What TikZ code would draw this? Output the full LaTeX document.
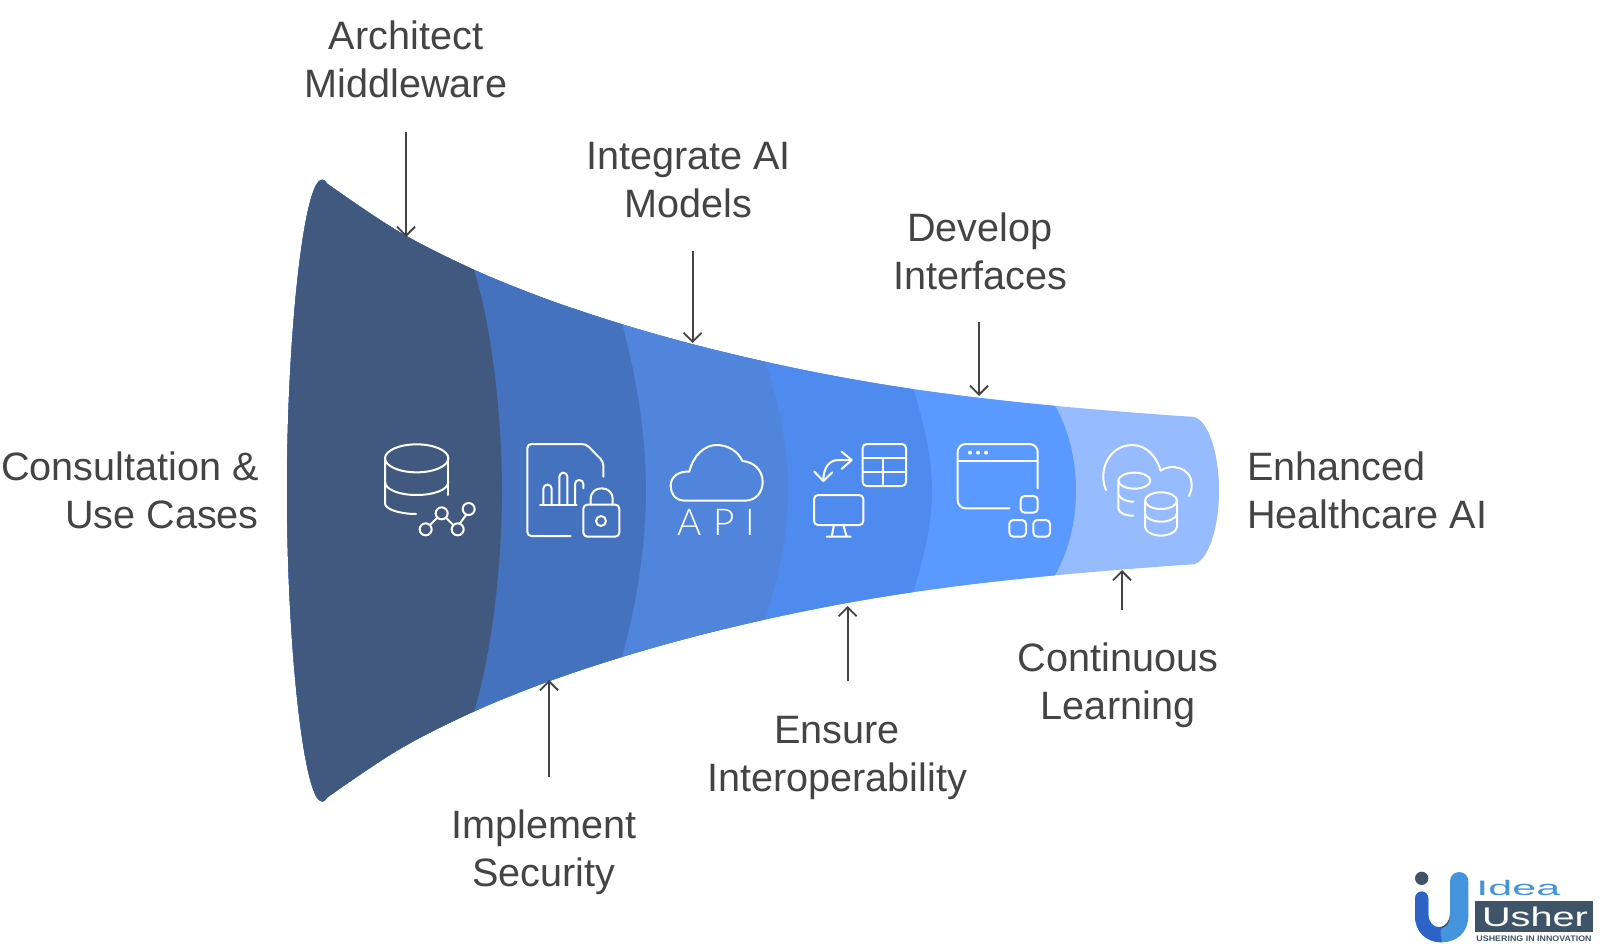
\documentclass[tikz,border=0pt]{standalone}
\usepackage{fontspec}
\setmainfont{Liberation Sans}
\newfontfamily\apifont[UprightFont=* Light,LetterSpace=30]{Lato}
\usetikzlibrary{arrows.meta}
\definecolor{cA}{HTML}{41597F}
\definecolor{cB}{HTML}{4472BE}
\definecolor{cC}{HTML}{5085DB}
\definecolor{cD}{HTML}{4F8BEE}
\definecolor{cE}{HTML}{5A99FF}
\definecolor{cF}{HTML}{97BBFF}
\definecolor{txt}{HTML}{444444}
\definecolor{logoDark}{HTML}{3F5468}
\definecolor{logoBlue}{HTML}{2D62C6}
\definecolor{logoSky}{HTML}{4594DE}
\tikzset{
  lab/.style={font=\fontsize{39.6}{47.8}\selectfont,text=txt,align=center,inner sep=0pt},
  arr/.style={draw=txt,line width=1.8pt,-{Straight Barb[length=9pt,width=18pt,line width=1.8pt]}},
  ico/.style={draw=white,line width=2pt,line cap=round,line join=round},
  rr/.style={rounded corners=4pt}
}
\begin{document}
\begin{tikzpicture}[x=1pt,y=-1pt]
\useasboundingbox (0,0) rectangle (1600,944);
\fill[white] (0,0) rectangle (1600,944);
% funnel
\begin{scope}
\clip (287,490.6) .. controls (287,340) and (303,190) .. (320,180.5)
  .. controls (323,178.5) and (325,180.5) .. (327,183.6)
  -- plot[smooth,tension=.6] coordinates {(327,183.6) (397,230.6) (467,266.6) (537,295.6) (607,319.6) (677,340.1) (747,357.6) (817,372.6) (887,385.1) (957,395.1) (1027,403.1) (1097,409.6) (1167,415.1) (1193,416.8)}
  .. controls (1208,419) and (1219,453) .. (1219,490.6)
  .. controls (1219,528) and (1208,562) .. (1193,564.4)
  -- plot[smooth,tension=.6] coordinates {(1193,564.4) (1167,566.1) (1097,571.6) (1027,578.1) (957,586.1) (887,596.1) (817,608.6) (747,623.6) (677,641.1) (607,661.6) (537,685.6) (467,714.6) (397,750.6) (327,797.6)}
  .. controls (325,800.7) and (323,802.7) .. (320,800.7)
  .. controls (303,791) and (287,641) .. (287,490.6) -- cycle;
\fill[cF] (200,100) rectangle (1300,900);
\fill[cE] (200,100) -- (1054,100) -- (1054,404) .. controls (1068,428) and (1076,458) .. (1076,490.6) .. controls (1076,523) and (1068,553) .. (1054,577) -- (1054,900) -- (200,900) -- cycle;
\fill[cD] (200,100) -- (913,100) -- (913,388) .. controls (924,423) and (932,458) .. (932,490.6) .. controls (932,523) and (924,558) .. (913,593) -- (913,900) -- (200,900) -- cycle;
\fill[cC] (200,100) -- (765,100) -- (765,361) .. controls (780,408) and (788,448) .. (788,490.6) .. controls (788,533) and (780,573) .. (765,620) -- (765,900) -- (200,900) -- cycle;
\fill[cB] (200,100) -- (622,100) -- (622,324) .. controls (637,378) and (646,438) .. (646,490.6) .. controls (646,543) and (637,603) .. (622,657) -- (622,900) -- (200,900) -- cycle;
\fill[cA] (200,100) -- (474,100) -- (474,270) .. controls (492,328) and (502,418) .. (502,490.6) .. controls (502,563) and (492,653) .. (474,711) -- (474,900) -- (200,900) -- cycle;
\end{scope}
% labels
\node[lab] (architect) at (406,59.5) {Architect\\Middleware};
\node[lab] (integrate) at (688.5,180) {Integrate AI\\Models};
\node[lab] (develop) at (980,251) {Develop\\Interfaces};
\node[lab] (implement) at (544,852) {Implement\\Security};
\node[lab] (ensure) at (837,758) {Ensure\\Interoperability};
\node[lab] (continuous) at (1118,685) {Continuous\\Learning};
\node[lab,align=right,anchor=east] (consult) at (259,490) {Consultation \&\\Use Cases};
\node[lab,align=left,anchor=west] (enhanced) at (1247,490) {Enhanced\\Healthcare AI};
% arrows
\coordinate (a1s) at (406,131.6); \coordinate (a1e) at (406,237);
\coordinate (a2s) at (692.6,251); \coordinate (a2e) at (692.6,343);
\coordinate (a3s) at (979,322); \coordinate (a3e) at (979,396);
\coordinate (a4s) at (549,777); \coordinate (a4e) at (549,680);
\coordinate (a5s) at (847.6,681); \coordinate (a5e) at (847.6,606);
\coordinate (a6s) at (1122,610); \coordinate (a6e) at (1122,570);
\foreach \n in {1,...,6} {\draw[arr] (a\n s) -- (a\n e);}
% icons, first three
\begin{scope}[shift={(350,410)},scale=1/3]
\draw[ico] (200,145) ellipse [x radius=95,y radius=42];
\draw[ico] (105,145) -- (105,280) .. controls (105,298) and (150,312) .. (198,312);
\draw[ico] (295,145) -- (295,255);
\draw[ico] (105,215) .. controls (105,240) and (150,255) .. (200,255) .. controls (250,255) and (295,240) .. (295,215);
\draw[ico] (227,358) circle [radius=18] (275,310) circle [radius=18] (323,358) circle [radius=18] (356,297) circle [radius=18];
\draw[ico] (240,345) -- (262,323) (288,323) -- (310,345) (329,341) -- (349,314);
% document + lock
\draw[ico,rr] (662,378) -- (532,378) -- (532,102) -- (708,102) -- (760,155) -- (760,200);
\draw[ico,rr] (570,284) -- (680,284);
\draw[ico,rr] (580,284) -- (580,224) -- (605,224) -- (605,284);
\draw[ico,rr] (628,284) -- (628,188) -- (652,188) -- (652,284);
\draw[ico,rr] (675,284) -- (675,210) -- (700,210) -- (700,235);
\draw[ico,rr] (700,284) rectangle (808,380);
\draw[ico] (722,284) -- (722,268) .. controls (722,245) and (738,235) .. (755,235) .. controls (772,235) and (788,245) .. (788,268) -- (788,284);
\draw[ico] (753,333) circle [radius=15];
% cloud
\draw[ico] (1005,272) .. controls (975,272) and (962,250) .. (962,228) .. controls (962,200) and (985,183) .. (1018,185)
  .. controls (1030,135) and (1065,105) .. (1100,105) .. controls (1135,105) and (1165,125) .. (1177,153)
  .. controls (1210,155) and (1238,180) .. (1238,215) .. controls (1238,250) and (1215,272) .. (1185,272) -- cycle;
\node[text=white,font=\apifont\fontsize{37}{37}\selectfont,inner sep=0pt] (api) at (1100,338) {API};
\end{scope}
% icons, next two
\begin{scope}[shift={(770,410)},scale=1/3]
\draw[ico,rr] (278,102) rectangle (408,228);
\draw[ico] (278,145) -- (408,145) (278,187) -- (408,187) (338,145) -- (338,228);
\draw[ico,rr] (132,255) rectangle (280,345);
\draw[ico] (192,345) -- (185,380) (220,345) -- (230,380) (170,380) -- (242,380);
\draw[ico] (243,150) -- (205,150) .. controls (180,150) and (160,170) .. (160,212);
\draw[ico] (215,125) -- (245,150) -- (215,177);
\draw[ico] (133,185) -- (160,213) -- (187,187);
\draw[ico,rounded corners=8pt] (803,235) -- (803,102) -- (563,102) -- (563,295) -- (718,295);
\draw[ico] (563,152) -- (803,152);
\fill[white] (600,128) circle [radius=6] (624,128) circle [radius=6] (648,128) circle [radius=6];
\draw[ico,rr] (752,258) rectangle (803,308);
\draw[ico,rr] (718,330) rectangle (768,380);
\draw[ico,rr] (790,330) rectangle (840,380);
\end{scope}
% last icon
\begin{scope}[shift={(1090,430)},scale=1/3]
\draw[ico] (48,180) .. controls (25,130) and (50,48) .. (125,45) .. controls (170,45) and (200,80) .. (212,122)
  .. controls (240,100) and (305,110) .. (305,165) .. controls (305,178) and (302,188) .. (297,198);
\draw[ico] (133,152) ellipse [x radius=48,y radius=24];
\draw[ico] (85,152) -- (85,235) .. controls (85,248) and (105,257) .. (130,257);
\draw[ico] (85,192) .. controls (88,205) and (105,215) .. (130,215);
\draw[ico] (213,212) ellipse [x radius=48,y radius=25];
\draw[ico] (165,212) -- (165,290) .. controls (165,305) and (190,317) .. (213,317) .. controls (236,317) and (261,305) .. (261,290) -- (261,212);
\draw[ico] (165,250) .. controls (165,265) and (190,275) .. (213,275) .. controls (236,275) and (261,265) .. (261,250);
\end{scope}
% logo
\begin{scope}[shift={(1400,864)},scale=1/3]
\fill[logoDark] (65,43) circle [radius=20];
\fill[logoSky] (45,105) .. controls (45,75) and (85,75) .. (85,105) -- (85,150) .. controls (85,175) and (100,190) .. (118,190)
  .. controls (135,190) and (150,175) .. (150,150) -- (150,52) .. controls (150,15) and (205,15) .. (205,52) -- (205,155)
  .. controls (205,205) and (170,235) .. (125,235) .. controls (80,235) and (45,205) .. (45,155) -- cycle;
\fill[logoBlue] (45,105) .. controls (45,75) and (85,75) .. (85,105) -- (85,150) .. controls (85,175) and (100,190) .. (118,190)
  .. controls (122,190) and (126,190) .. (130,188) .. controls (110,205) and (130,225) .. (125,235)
  .. controls (80,235) and (45,205) .. (45,155) -- cycle;
\fill[logoDark!85!black] (150,150) .. controls (148,175) and (135,188) .. (118,190) .. controls (135,195) and (150,180) .. (150,150) -- cycle;
\fill[logoDark] (225,112) rectangle (578,205);
\end{scope}
\node[text=logoSky,font=\fontsize{21}{21}\selectfont,xscale=2.05,transform shape,inner sep=0pt] (idea) at (1518.3,888.3) {Idea};
\node[text=white,font=\fontsize{27}{27}\selectfont,xscale=1.47,transform shape,inner sep=0pt] (usher) at (1535,917.3) {Usher};
\node[text=logoDark,font=\bfseries\fontsize{8}{8}\selectfont,xscale=1.11,transform shape,inner sep=0pt] (tag) at (1534,938.7) {USHERING IN INNOVATION};
\end{tikzpicture}
\end{document}
